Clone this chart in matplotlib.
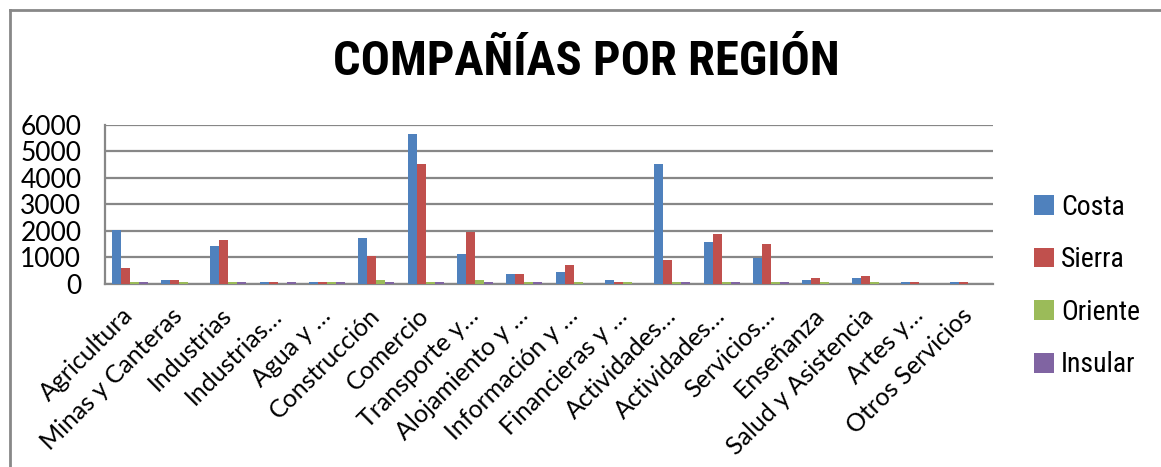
import numpy as np
import matplotlib
matplotlib.use("Agg")
from matplotlib import pyplot as plt
from matplotlib.lines import Line2D

# categories and values
categories = ['Agricultura', 'Minas y Canteras', 'Industrias', 'Industrias…',
              'Agua y …', 'Construcción', 'Comercio', 'Transporte y…',
              'Alojamiento y …', 'Información y …', 'Financieras y …',
              'Actividades…', 'Actividades…', 'Servicios…', 'Enseñanza',
              'Salud y Asistencia', 'Artes y…', 'Otros Servicios']
costa   = [2050, 160, 1440, 90, 90, 1740, 5660, 1130, 390, 450, 160, 4530, 1590, 990, 160, 240, 90, 90]
sierra  = [600, 160, 1660, 90, 90, 1070, 4530, 1970, 390, 700, 90, 920, 1900, 1510, 240, 310, 90, 90]
oriente = [90, 90, 90, 0, 90, 160, 90, 160, 90, 90, 90, 90, 90, 90, 90, 90, 0, 0]
insular = [90, 0, 90, 90, 90, 90, 90, 90, 90, 0, 0, 90, 90, 90, 0, 0, 0, 0]
series = ['Costa', 'Sierra', 'Oriente', 'Insular']
colors = ['#4f81bd', '#c0504d', '#9bbb59', '#8064a2']

cond = ['Roboto Condensed', 'Oswald', 'DejaVu Sans']
body = ['Lato', 'DejaVu Sans']

W, H = 1161, 467
fig = plt.figure(figsize=(W / 100, H / 100), dpi=100)
ax = fig.add_axes([105 / W, 1 - 284 / H, (993 - 105) / W, (284 - 124.7) / H])

x = np.arange(len(categories))
w = 0.182
for i, vals in enumerate([costa, sierra, oriente, insular]):
    ax.bar(x + (i - 1.5) * w, vals, width=w, color=colors[i],
           label=series[i], zorder=3)

ax.set_xlim(-0.5, len(categories) - 0.5)
ax.set_ylim(0, 6000)
ax.set_yticks(range(0, 6001, 1000))
ax.yaxis.grid(True, color='#878787', lw=1.6, zorder=0)
ax.set_axisbelow(True)
for s in ['top', 'right']:
    ax.spines[s].set_visible(False)
for s in ['left', 'bottom']:
    ax.spines[s].set_color('#878787')
    ax.spines[s].set_linewidth(1.6)
ax.tick_params(length=0)
ax.tick_params(axis='y', pad=17)
ax.set_yticklabels([str(v) for v in range(0, 6001, 1000)], family=body, fontsize=19)
ax.set_xticks(x)
ax.set_xticklabels(categories, rotation=45, ha='right', va='center',
                   rotation_mode='anchor', family=body, fontsize=18)
ax.tick_params(axis='x', pad=20)

fig.text(586 / W, 1 - 62 / H, 'COMPAÑÍAS POR REGIÓN', ha='center', va='center',
         family=cond, weight='bold', fontsize=35)

ax.legend(loc='center left', bbox_to_anchor=(1034 / W, 1 - 286 / H),
          bbox_transform=fig.transFigure, frameon=False, borderpad=0,
          borderaxespad=0, handlelength=0.72, handleheight=0.72,
          handletextpad=0.25, labelspacing=0.92,
          prop={'family': cond, 'size': 20})

# chart frame (left and top edges visible)
fig.add_artist(Line2D([9.5 / W, 9.5 / W], [0, 1 - 10 / H], color='#888888', lw=2,
                      transform=fig.transFigure))
fig.add_artist(Line2D([9.5 / W, 1], [1 - 10 / H, 1 - 10 / H], color='#888888', lw=2,
                      transform=fig.transFigure))

fig.savefig('out.png', dpi=100)
